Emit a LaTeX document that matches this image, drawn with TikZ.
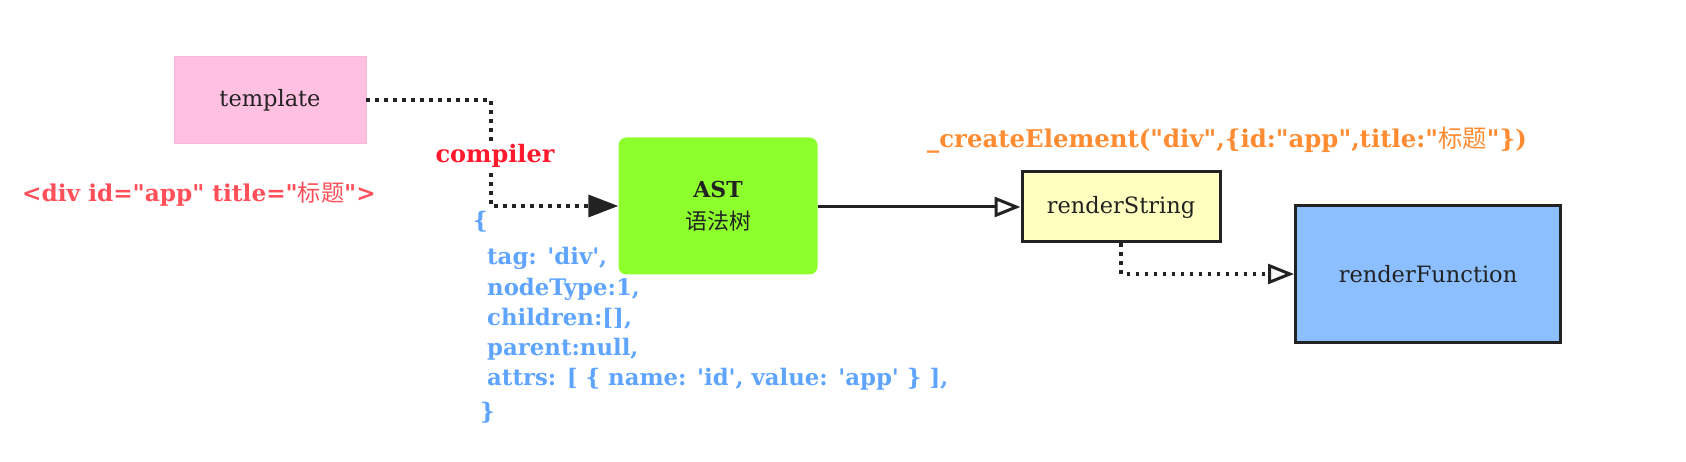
\documentclass[tikz,border=0pt]{standalone}
\usepackage{fontspec}
\setmainfont{DejaVu Serif}[Ligatures=TeXOff]
\newfontfamily\cjk{Noto Sans CJK SC}
\usetikzlibrary{arrows.meta}
\definecolor{tplpink}{RGB}{255,192,225}
\definecolor{tplborder}{RGB}{250,185,220}
\definecolor{astgreen}{RGB}{140,255,45}
\definecolor{rsyellow}{RGB}{255,255,192}
\definecolor{rfblue}{RGB}{139,191,255}
\definecolor{linecol}{RGB}{34,34,34}
\definecolor{compred}{RGB}{255,25,45}
\definecolor{divred}{RGB}{255,80,90}
\definecolor{codeblue}{RGB}{95,165,255}
\definecolor{ceorange}{RGB}{255,140,50}
\definecolor{txtdark}{RGB}{34,34,34}
\tikzset{
  boxstyle/.style={inner sep=0pt, text=txtdark, font=\fontsize{22.5}{26}\selectfont},
  thickbox/.style={boxstyle, draw=linecol, line width=3pt},
  dotline/.style={draw=linecol, line width=3.5pt, dash pattern=on 3.5pt off 5.5pt},
  solidline/.style={draw=linecol, line width=3pt},
  openhead/.style={-{Triangle[open,length=26pt,width=20pt,fill=white,line width=3pt]}},
  codeline/.style={anchor=base west, inner sep=0pt, text=codeblue, font=\bfseries\fontsize{22.8}{26}\selectfont}
}
\begin{document}
\begin{tikzpicture}[x=1pt,y=-1pt]
\useasboundingbox (0,0) rectangle (1686,462);
% boxes
\node[boxstyle, fill=tplpink, draw=tplborder, line width=0.8pt, minimum width=192pt, minimum height=87pt] (tpl) at (270,100) {template};
\node[boxstyle, fill=astgreen, rounded corners=8pt, minimum width=199pt, minimum height=137pt, align=center, font=\fontsize{22}{32}\selectfont] (ast) at (718,206) {\textbf{AST}\\{\cjk 语法树}};
\node[thickbox, fill=rsyellow, minimum width=198pt, minimum height=70pt] (rs) at (1121,207) {renderString};
\node[thickbox, fill=rfblue, minimum width=265pt, minimum height=136pt] (rf) at (1428,274) {renderFunction};
% connectors
\coordinate (c1) at (491,150);
\draw[dotline, -{Triangle[length=30pt,width=22pt,fill=linecol]}] (tpl.east) -| (c1) |- (ast.west);
\node[fill=white, inner sep=2pt, text=compred, font=\bfseries\fontsize{24}{26}\selectfont] (comp) at (495,156) {compiler};
\draw[solidline, openhead] (ast.east |- rs.west) -- (rs.west);
\draw[dotline, openhead] (rs.south) |- (rf.west);
% texts
\node[inner sep=0pt, text=divred, font=\bfseries\fontsize{23.2}{26}\selectfont] (divtxt) at (199,194) {<div id="app" title="{\cjk\mdseries 标题}">};
\node[inner sep=0pt, text=ceorange, font=\bfseries\fontsize{24.4}{26}\selectfont] (ce) at (1227,140) {\_createElement("div",\{id:"app",title:"{\cjk\mdseries 标题}"\})};
\node[codeline] (l1) at (473,229) {\{};
\node[codeline] (l2) at (487,265) {tag: 'div',};
\node[codeline] (l3) at (487,295) {nodeType:1,};
\node[codeline] (l4) at (487,325) {children:[],};
\node[codeline] (l5) at (487,355) {parent:null,};
\node[codeline] (l6) at (487,385) {attrs: [ \{ name: 'id', value: 'app' \} ],};
\node[codeline] (l7) at (480,419) {\}};
\end{tikzpicture}
\end{document}
